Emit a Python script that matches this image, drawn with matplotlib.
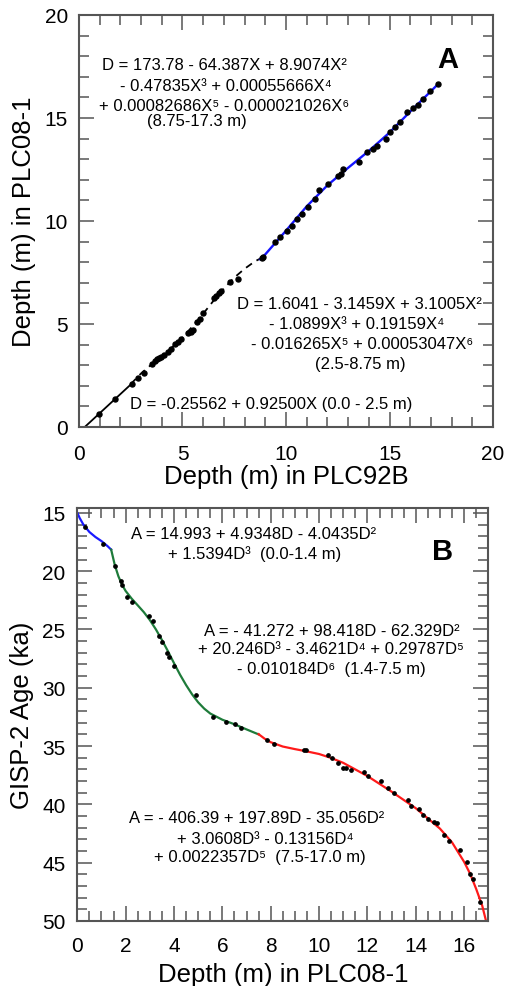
import matplotlib
matplotlib.use("Agg")
import matplotlib.pyplot as plt
from matplotlib.ticker import MultipleLocator

plt.rcParams['font.family'] = ['Liberation Sans', 'DejaVu Sans']

# ---- panel A: PLC08-1 depth vs PLC92B depth ----
a_dot_x = [0.95, 1.75, 2.58, 2.85, 3.12, 3.55, 3.65, 3.75, 3.85, 3.95, 4.1, 4.3, 4.45,
           4.62, 4.8, 4.95, 5.25, 5.4, 5.52, 5.7, 5.85, 6.0, 6.5, 6.62, 6.75, 6.85,
           7.28, 7.68, 8.83, 8.9, 9.47, 9.71, 10.03, 10.27, 10.52, 10.76, 11.08, 11.4,
           11.61, 12.04, 12.53, 12.65, 12.77, 13.54, 13.9, 14.22, 14.38, 14.83, 15.02,
           15.27, 15.51, 15.83, 16.15, 16.39, 16.63, 16.96, 17.36]
a_dot_y = [0.63, 1.36, 2.09, 2.38, 2.64, 3.05, 3.2, 3.3, 3.36, 3.42, 3.5, 3.65, 3.78,
           4.02, 4.12, 4.27, 4.55, 4.62, 4.7, 5.08, 5.22, 5.55, 6.25, 6.35, 6.5, 6.6,
           7.02, 7.2, 8.19, 8.25, 8.97, 9.21, 9.53, 9.77, 10.1, 10.34, 10.66, 11.07,
           11.52, 11.8, 12.2, 12.3, 12.52, 12.88, 13.33, 13.5, 13.66, 13.98, 14.31,
           14.55, 14.79, 15.28, 15.47, 15.63, 15.92, 16.33, 16.65]

a_lin_x = [0.28, 2.5]
a_lin_y = [0.0, 2.06]
a_mid_x = [2.5, 3.0, 3.5, 4.0, 4.5, 5.0, 5.5, 6.0, 6.5, 7.0, 7.5, 8.0, 8.5, 8.75]
a_mid_y = [2.08, 2.60, 3.03, 3.44, 3.87, 4.35, 4.90, 5.50, 6.13, 6.72, 7.25, 7.68, 8.04, 8.17]
a_up_x = [8.75, 9.0, 10.0, 11.0, 12.0, 13.0, 14.0, 15.0, 16.0, 17.0, 17.3]
a_up_y = [8.14, 8.38, 9.53, 10.71, 11.73, 12.58, 13.40, 14.29, 15.31, 16.30, 16.6]

# ---- panel B: GISP-2 age vs PLC08-1 depth ----
b_dot_x = [0.33, 1.08,
           1.54, 1.79, 1.86, 2.05, 2.27, 2.95, 3.14, 3.36, 3.52, 3.7, 3.78, 4.0, 4.93,
           5.62, 6.13, 6.52, 6.79,
           7.86, 8.14, 9.36, 9.45, 10.35, 10.55, 10.79, 10.99, 11.13, 11.34, 11.84,
           12.03, 12.57, 12.85, 13.11, 13.66, 13.8, 14.13, 14.28, 14.5, 14.76, 14.87,
           15.15, 15.38, 15.81, 16.1, 16.25, 16.38, 16.66]
b_dot_y = [16.25, 17.7,
           19.55, 20.8, 21.2, 22.2, 22.63, 23.85, 24.28, 25.58, 26.1, 27.06, 27.34, 28.1,
           30.6, 32.52, 32.91, 33.14, 33.42,
           34.49, 34.82, 35.3, 35.33, 35.78, 36.0, 36.49, 36.86, 36.9, 37.02, 37.2,
           37.6, 37.98, 38.57, 39.06, 39.66, 40.17, 40.43, 40.95, 41.29, 41.5, 41.63,
           42.6, 43.17, 43.92, 44.97, 45.95, 46.4, 48.38]

b_blue_x = [0.0, 0.1, 0.25, 0.5, 0.75, 1.0, 1.25, 1.4]
b_blue_y = [14.99, 15.45, 16.0, 16.64, 17.07, 17.42, 17.85, 18.15]
b_green_x = [1.4, 1.55, 1.7, 1.85, 2.0, 2.25, 2.5, 2.75, 3.0, 3.25, 3.5, 3.75, 4.0,
             4.25, 4.5, 4.75, 5.0, 5.25, 5.5, 6.0, 6.5, 7.0, 7.5]
b_green_y = [18.15, 19.47, 20.44, 21.16, 21.70, 22.36, 22.93, 23.51, 24.19, 24.99,
             25.90, 26.87, 27.89, 28.88, 29.77, 30.57, 31.25, 31.79, 32.21, 32.74,
             33.13, 33.57, 34.0]
b_red_x = [7.5, 7.75, 8.0, 8.5, 9.0, 9.5, 10.0, 10.5, 11.0, 12.0, 13.0, 14.0, 15.0,
           15.5, 16.0, 16.25, 16.5, 16.75, 16.9]
b_red_y = [33.98, 34.37, 34.67, 35.04, 35.26, 35.46, 35.68, 36.02, 36.44, 37.57,
           38.91, 40.33, 42.08, 43.26, 44.93, 45.96, 47.26, 48.70, 49.94]

spine_col = '#555555'


def style_axes(ax, xminor, yminor):
    ax.xaxis.set_minor_locator(MultipleLocator(xminor))
    ax.yaxis.set_minor_locator(MultipleLocator(yminor))
    ax.tick_params(which='both', direction='in', top=True, right=True,
                   color=spine_col, labelcolor='black', labelsize=15)
    ax.tick_params(which='major', length=11, width=1.1)
    ax.tick_params(which='minor', length=7, width=1.1)
    for s in ax.spines.values():
        s.set_color(spine_col)
        s.set_linewidth(1.5)


fig = plt.figure(figsize=(5.08, 9.87), dpi=100)

# panel A
axA = fig.add_axes([0.1555, 0.5664, 0.815, 0.4174])
axA.plot(a_lin_x, a_lin_y, color='black', lw=1.3)
axA.plot(a_mid_x, a_mid_y, color='black', lw=1.3, ls=(0, (4, 3)))
axA.plot(a_up_x, a_up_y, color='#1414ff', lw=1.7)
axA.plot(a_dot_x, a_dot_y, 'o', color='black', ms=3.6, zorder=3)
axA.set_xlim(0, 20)
axA.set_ylim(0, 20)
axA.xaxis.set_major_locator(MultipleLocator(5))
axA.yaxis.set_major_locator(MultipleLocator(5))
style_axes(axA, 1, 1)
axA.tick_params(axis='x', pad=12)
axA.tick_params(axis='y', pad=8)
axA.set_xlabel('Depth (m) in PLC92B', fontsize=18.5, labelpad=1)
axA.set_ylabel('Depth (m) in PLC08-1', fontsize=18.5, labelpad=6)

fs = 12
axA.text(7.05, 17.62, 'D = 173.78 - 64.387X + 8.9074X²', fontsize=fs, ha='center', va='center')
axA.text(7.1, 16.6, '- 0.47835X³ + 0.00055666X⁴', fontsize=fs, ha='center', va='center')
axA.text(7.0, 15.6, '+ 0.00082686X⁵ - 0.000021026X⁶', fontsize=fs, ha='center', va='center')
axA.text(5.7, 14.87, '(8.75-17.3 m)', fontsize=fs, ha='center', va='center')

axA.text(13.57, 5.97, 'D = 1.6041 - 3.1459X + 3.1005X²', fontsize=fs, ha='center', va='center')
axA.text(13.41, 5.0, '- 1.0899X³ + 0.19159X⁴', fontsize=fs, ha='center', va='center')
axA.text(13.69, 4.03, '- 0.016265X⁵ + 0.00053047X⁶', fontsize=fs, ha='center', va='center')
axA.text(13.57, 3.06, '(2.5-8.75 m)', fontsize=fs, ha='center', va='center')

axA.text(9.3, 1.12, 'D = -0.25562 + 0.92500X (0.0 - 2.5 m)', fontsize=fs, ha='center', va='center')
axA.text(17.8, 17.86, 'A', fontsize=21, fontweight='bold', ha='center', va='center')

# panel B
axB = fig.add_axes([0.1522, 0.0659, 0.809, 0.4184])
axB.plot(b_blue_x, b_blue_y, color='#1a1aff', lw=1.6)
axB.plot(b_green_x, b_green_y, color='#1e7b3a', lw=1.6)
axB.plot(b_red_x, b_red_y, color='#ff1a1a', lw=1.6)
axB.plot(b_dot_x, b_dot_y, 'o', color='black', ms=2.4, zorder=3)
axB.set_xlim(0, 17)
axB.set_ylim(50, 14.58)
axB.set_xticks([0, 2, 4, 6, 8, 10, 12, 14, 16])
axB.set_yticks([15, 20, 25, 30, 35, 40, 45, 50])
style_axes(axB, 0.5, 1)
axB.tick_params(axis='x', pad=11)
axB.tick_params(axis='y', pad=8.5)
axB.set_xlabel('Depth (m) in PLC08-1', fontsize=18.5, labelpad=5)
axB.set_ylabel('GISP-2 Age (ka)', fontsize=18.5, labelpad=6)

axB.text(7.27, 16.78, 'A = 14.993 + 4.9348D - 4.0435D²', fontsize=fs, ha='center', va='center')
axB.text(7.34, 18.41, '+ 1.5394D³  (0.0-1.4 m)', fontsize=fs, ha='center', va='center')
axB.text(15.1, 18.3, 'B', fontsize=21, fontweight='bold', ha='center', va='center')

axB.text(10.51, 25.06, 'A = - 41.272 + 98.418D - 62.329D²', fontsize=fs, ha='center', va='center')
axB.text(10.51, 26.63, '+ 20.246D³ - 3.4621D⁴ + 0.29787D⁵', fontsize=fs, ha='center', va='center')
axB.text(10.51, 28.35, '- 0.010184D⁶  (1.4-7.5 m)', fontsize=fs, ha='center', va='center')

axB.text(7.41, 41.14, 'A = - 406.39 + 197.89D - 35.056D²', fontsize=fs, ha='center', va='center')
axB.text(7.76, 42.91, '+ 3.0608D³ - 0.13156D⁴', fontsize=fs, ha='center', va='center')
axB.text(7.55, 44.48, '+ 0.0022357D⁵  (7.5-17.0 m)', fontsize=fs, ha='center', va='center')

fig.savefig('out.png', dpi=100)
